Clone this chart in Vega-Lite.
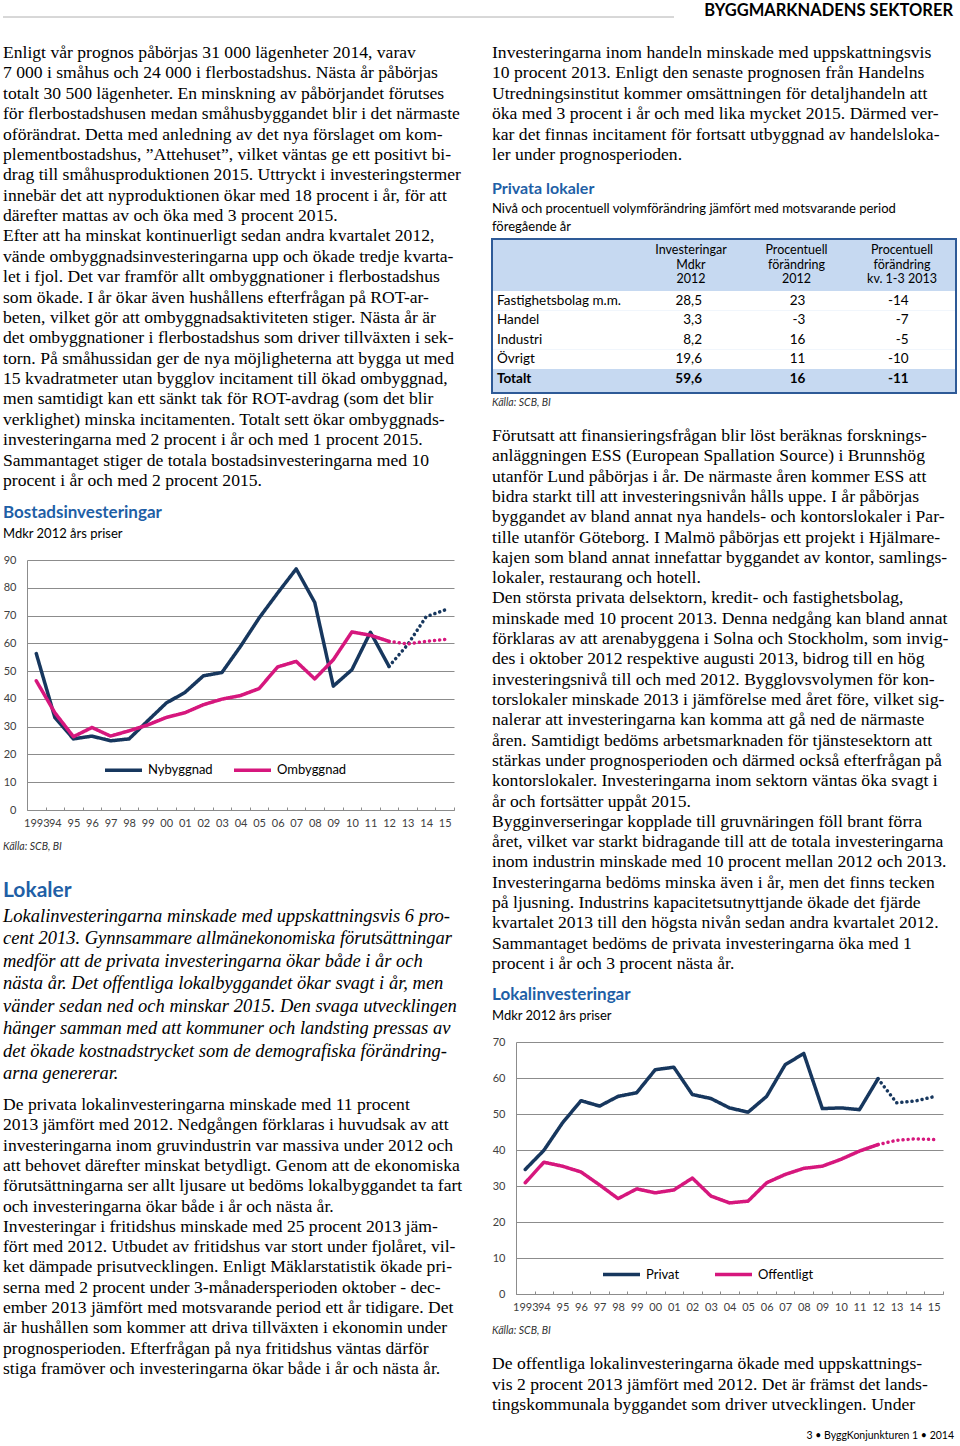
{
  "$schema": "https://vega.github.io/schema/vega-lite/v6.json",
  "background": "white",
  "padding": {"left": 2, "top": 1, "right": 0, "bottom": 0},
  "config": {
    "view": {"stroke": null},
    "locale": {"number": {"decimal": ",", "thousands": " ", "grouping": [3], "currency": ["", " kr"], "minus": "-"}},
    "axis": {"labelFont": "Lato", "labelFontSize": 11, "labelColor": "#404040", "domainColor": "#8c8c8c", "domainWidth": 1, "gridColor": "#8c8c8c", "gridWidth": 1, "tickColor": "#8c8c8c"},
    "title": {"anchor": "start", "frame": "group", "font": "Lato", "fontSize": 17, "fontWeight": "bold", "color": "#1f5fa6", "subtitleFont": "Lato", "subtitleFontSize": 13, "subtitleColor": "#000000", "subtitlePadding": 6, "offset": 12}
  },
  "bounds": "flush",
  "spacing": 24,
  "resolve": {"scale": {"color": "independent", "strokeDash": "independent"}, "legend": {"color": "independent", "strokeDash": "independent"}},
  "vconcat": [
    {
      "width": 950,
      "height": 16,
      "data": {"values": [{"t": "BYGGMARKNADENS SEKTORER"}]},
      "layer": [
        {"mark": {"type": "rule", "color": "#b0b0b0", "strokeWidth": 1}, "encoding": {"x": {"value": 0}, "x2": {"value": 671}, "y": {"value": "height"}}},
        {"mark": {"type": "text", "align": "right", "baseline": "middle", "dy": 2, "font": "Lato", "fontSize": 16.5, "fontWeight": "bold", "color": "#000000"}, "encoding": {"x": {"value": "width"}, "text": {"field": "t"}}}
      ]
    },
    {
      "spacing": 18,
      "resolve": {"scale": {"color": "independent", "strokeDash": "independent"}, "legend": {"color": "independent", "strokeDash": "independent"}},
      "hconcat": [
        {
          "bounds": "flush",
          "spacing": 0,
          "resolve": {"scale": {"color": "independent", "strokeDash": "independent"}, "legend": {"color": "independent", "strokeDash": "independent"}},
          "vconcat": [
            {
              "width": 470,
              "height": 519,
              "data": {"values": [
                {"n": 0, "t": "\u2003Enligt vår prognos påbörjas 31 000 lägenheter 2014, varav"},
                {"n": 1, "t": "7 000 i småhus och 24 000 i flerbostadshus. Nästa år påbörjas"},
                {"n": 2, "t": "totalt 30 500 lägenheter. En minskning av påbörjandet förutses"},
                {"n": 3, "t": "för flerbostadshusen medan småhusbyggandet blir i det närmaste"},
                {"n": 4, "t": "oförändrat. Detta med anledning av det nya förslaget om kom-"},
                {"n": 5, "t": "plementbostadshus, ”Attehuset”, vilket väntas ge ett positivt bi-"},
                {"n": 6, "t": "drag till småhusproduktionen 2015. Uttryckt i investeringstermer"},
                {"n": 7, "t": "innebär det att nyproduktionen ökar med 18 procent i år, för att"},
                {"n": 8, "t": "därefter mattas av och öka med 3 procent 2015."},
                {"n": 9, "t": "\u2003Efter att ha minskat kontinuerligt sedan andra kvartalet 2012,"},
                {"n": 10, "t": "vände ombyggnadsinvesteringarna upp och ökade tredje kvarta-"},
                {"n": 11, "t": "let i fjol. Det var framför allt ombyggnationer i flerbostadshus"},
                {"n": 12, "t": "som ökade. I år ökar även hushållens efterfrågan på ROT-ar-"},
                {"n": 13, "t": "beten, vilket gör att ombyggnadsaktiviteten stiger. Nästa år är"},
                {"n": 14, "t": "det ombyggnationer i flerbostadshus som driver tillväxten i sek-"},
                {"n": 15, "t": "torn. På småhussidan ger de nya möjligheterna att bygga ut med"},
                {"n": 16, "t": "15 kvadratmeter utan bygglov incitament till ökad ombyggnad,"},
                {"n": 17, "t": "men samtidigt kan ett sänkt tak för ROT-avdrag (som det blir"},
                {"n": 18, "t": "verklighet) minska incitamenten. Totalt sett ökar ombyggnads-"},
                {"n": 19, "t": "investeringarna med 2 procent i år och med 1 procent 2015."},
                {"n": 20, "t": "\u2003Sammantaget stiger de totala bostadsinvesteringarna med 10"},
                {"n": 21, "t": "procent i år och med 2 procent 2015."}
              ]},
              "mark": {"type": "text", "align": "left", "baseline": "middle", "font": "Liberation Serif", "fontSize": 17.6, "color": "#000000"},
              "encoding": {
                "x": {"value": 0},
                "y": {"field": "n", "type": "quantitative", "scale": {"domain": [-0.5888, 24.876], "reverse": true, "nice": false, "zero": false}, "axis": null},
                "text": {"field": "t"}
              }
            },
            {
              "width": 470,
              "height": 250,
              "title": {"text": "Bostadsinvesteringar", "subtitle": "Mdkr 2012 års priser"},
              "data": {"values": [
                {"ar": 1993, "serie": "Nybyggnad", "fas": "Utfall", "v": 56.3},
                {"ar": 1994, "serie": "Nybyggnad", "fas": "Utfall", "v": 33.3},
                {"ar": 1995, "serie": "Nybyggnad", "fas": "Utfall", "v": 25.6},
                {"ar": 1996, "serie": "Nybyggnad", "fas": "Utfall", "v": 26.6},
                {"ar": 1997, "serie": "Nybyggnad", "fas": "Utfall", "v": 24.9},
                {"ar": 1998, "serie": "Nybyggnad", "fas": "Utfall", "v": 25.6},
                {"ar": 1999, "serie": "Nybyggnad", "fas": "Utfall", "v": 32.1},
                {"ar": 2000, "serie": "Nybyggnad", "fas": "Utfall", "v": 38.5},
                {"ar": 2001, "serie": "Nybyggnad", "fas": "Utfall", "v": 42.3},
                {"ar": 2002, "serie": "Nybyggnad", "fas": "Utfall", "v": 48.3},
                {"ar": 2003, "serie": "Nybyggnad", "fas": "Utfall", "v": 49.5},
                {"ar": 2004, "serie": "Nybyggnad", "fas": "Utfall", "v": 58.9},
                {"ar": 2005, "serie": "Nybyggnad", "fas": "Utfall", "v": 69.1},
                {"ar": 2006, "serie": "Nybyggnad", "fas": "Utfall", "v": 78.1},
                {"ar": 2007, "serie": "Nybyggnad", "fas": "Utfall", "v": 86.8},
                {"ar": 2008, "serie": "Nybyggnad", "fas": "Utfall", "v": 74.7},
                {"ar": 2009, "serie": "Nybyggnad", "fas": "Utfall", "v": 44.6},
                {"ar": 2010, "serie": "Nybyggnad", "fas": "Utfall", "v": 50.5},
                {"ar": 2011, "serie": "Nybyggnad", "fas": "Utfall", "v": 64.0},
                {"ar": 2012, "serie": "Nybyggnad", "fas": "Utfall", "v": 51.7},
                {"ar": 2012, "serie": "Nybyggnad", "fas": "Prognos", "v": 51.7},
                {"ar": 2013, "serie": "Nybyggnad", "fas": "Prognos", "v": 59.5},
                {"ar": 2014, "serie": "Nybyggnad", "fas": "Prognos", "v": 69.6},
                {"ar": 2015, "serie": "Nybyggnad", "fas": "Prognos", "v": 72.0},
                {"ar": 1993, "serie": "Ombyggnad", "fas": "Utfall", "v": 46.5},
                {"ar": 1994, "serie": "Ombyggnad", "fas": "Utfall", "v": 35.0},
                {"ar": 1995, "serie": "Ombyggnad", "fas": "Utfall", "v": 26.4},
                {"ar": 1996, "serie": "Ombyggnad", "fas": "Utfall", "v": 29.7},
                {"ar": 1997, "serie": "Ombyggnad", "fas": "Utfall", "v": 26.6},
                {"ar": 1998, "serie": "Ombyggnad", "fas": "Utfall", "v": 28.5},
                {"ar": 1999, "serie": "Ombyggnad", "fas": "Utfall", "v": 30.6},
                {"ar": 2000, "serie": "Ombyggnad", "fas": "Utfall", "v": 33.3},
                {"ar": 2001, "serie": "Ombyggnad", "fas": "Utfall", "v": 35.0},
                {"ar": 2002, "serie": "Ombyggnad", "fas": "Utfall", "v": 37.9},
                {"ar": 2003, "serie": "Ombyggnad", "fas": "Utfall", "v": 39.9},
                {"ar": 2004, "serie": "Ombyggnad", "fas": "Utfall", "v": 41.2},
                {"ar": 2005, "serie": "Ombyggnad", "fas": "Utfall", "v": 43.7},
                {"ar": 2006, "serie": "Ombyggnad", "fas": "Utfall", "v": 51.5},
                {"ar": 2007, "serie": "Ombyggnad", "fas": "Utfall", "v": 53.5},
                {"ar": 2008, "serie": "Ombyggnad", "fas": "Utfall", "v": 47.2},
                {"ar": 2009, "serie": "Ombyggnad", "fas": "Utfall", "v": 54.1},
                {"ar": 2010, "serie": "Ombyggnad", "fas": "Utfall", "v": 64.1},
                {"ar": 2011, "serie": "Ombyggnad", "fas": "Utfall", "v": 62.9},
                {"ar": 2012, "serie": "Ombyggnad", "fas": "Utfall", "v": 60.7},
                {"ar": 2012, "serie": "Ombyggnad", "fas": "Prognos", "v": 60.7},
                {"ar": 2013, "serie": "Ombyggnad", "fas": "Prognos", "v": 59.8},
                {"ar": 2014, "serie": "Ombyggnad", "fas": "Prognos", "v": 60.7},
                {"ar": 2015, "serie": "Ombyggnad", "fas": "Prognos", "v": 61.4}
              ]},
              "mark": {"type": "line", "strokeWidth": 3.5, "strokeCap": "round", "strokeJoin": "round"},
              "encoding": {
                "x": {"field": "ar", "type": "ordinal", "scale": {"type": "band", "range": [24, 451], "paddingInner": 0, "paddingOuter": 0}, "axis": {"title": null, "labelAngle": 0, "labelExpr": "datum.value == 1993 ? '1993' : substring(datum.label, 2, 4)", "tickBand": "extent", "tickSize": -3, "labelPadding": 10, "labelOverlap": false, "grid": false}},
                "y": {"field": "v", "type": "quantitative", "scale": {"domain": [0, 90], "nice": false}, "axis": {"title": null, "values": [0, 10, 20, 30, 40, 50, 60, 70, 80, 90], "offset": -24, "ticks": false, "labelPadding": 11, "grid": true}},
                "color": {"field": "serie", "type": "nominal", "scale": {"domain": ["Nybyggnad", "Ombyggnad"], "range": ["#17375e", "#d6177d"]}, "legend": {"orient": "none", "legendX": 100, "legendY": 189.5, "direction": "horizontal", "title": null, "symbolType": "stroke", "symbolSize": 1369, "symbolStrokeWidth": 3.5, "labelFont": "Lato", "labelFontSize": 13, "labelColor": "#000000", "labelOffset": 4, "columnPadding": 14, "padding": 0}},
                "strokeDash": {"field": "fas", "type": "nominal", "scale": {"domain": ["Utfall", "Prognos"], "range": [[1, 0], [0.1, 5]]}, "legend": null}
              }
            },
            {
              "width": 470,
              "height": 74,
              "data": {"values": [{"t": "Källa: SCB, BI"}]},
              "mark": {"type": "text", "align": "left", "baseline": "middle", "font": "Lato", "fontSize": 10.5, "fontStyle": "italic", "color": "#333333"},
              "encoding": {"x": {"value": 0}, "text": {"field": "t"}}
            },
            {
              "width": 470,
              "height": 14,
              "data": {"values": [{"t": "Lokaler"}]},
              "mark": {"type": "text", "align": "left", "baseline": "middle", "font": "Lato", "fontSize": 21, "fontWeight": "bold", "color": "#1f5fa6"},
              "encoding": {"x": {"value": 0}, "text": {"field": "t"}}
            },
            {
              "width": 470,
              "height": 188,
              "data": {"values": [
                {"n": 0, "t": "Lokalinvesteringarna minskade med uppskattningsvis 6 pro-"},
                {"n": 1, "t": "cent 2013. Gynnsammare allmänekonomiska förutsättningar"},
                {"n": 2, "t": "medför att de privata investeringarna ökar både i år och"},
                {"n": 3, "t": "nästa år. Det offentliga lokalbyggandet ökar svagt i år, men"},
                {"n": 4, "t": "vänder sedan ned och minskar 2015. Den svaga utvecklingen"},
                {"n": 5, "t": "hänger samman med att kommuner och landsting pressas av"},
                {"n": 6, "t": "det ökade kostnadstrycket som de demografiska förändring-"},
                {"n": 7, "t": "arna genererar."}
              ]},
              "mark": {"type": "text", "align": "left", "baseline": "middle", "font": "Liberation Serif", "fontSize": 18.5, "fontStyle": "italic", "color": "#000000"},
              "encoding": {
                "x": {"value": 0},
                "y": {"field": "n", "type": "quantitative", "scale": {"domain": [-0.8025, 7.579], "reverse": true, "nice": false, "zero": false}, "axis": null},
                "text": {"field": "t"}
              }
            },
            {
              "width": 470,
              "height": 305,
              "data": {"values": [
                {"n": 0, "t": "\u2003De privata lokalinvesteringarna minskade med 11 procent"},
                {"n": 1, "t": "2013 jämfört med 2012. Nedgången förklaras i huvudsak av att"},
                {"n": 2, "t": "investeringarna inom gruvindustrin var massiva under 2012 och"},
                {"n": 3, "t": "att behovet därefter minskat betydligt. Genom att de ekonomiska"},
                {"n": 4, "t": "förutsättningarna ser allt ljusare ut bedöms lokalbyggandet ta fart"},
                {"n": 5, "t": "och investeringarna ökar både i år och nästa år."},
                {"n": 6, "t": "\u2003Investeringar i fritidshus minskade med 25 procent 2013 jäm-"},
                {"n": 7, "t": "fört med 2012. Utbudet av fritidshus var stort under fjolåret, vil-"},
                {"n": 8, "t": "ket dämpade prisutvecklingen. Enligt Mäklarstatistik ökade pri-"},
                {"n": 9, "t": "serna med 2 procent under 3-månadersperioden oktober - dec-"},
                {"n": 10, "t": "ember 2013 jämfört med motsvarande period ett år tidigare. Det"},
                {"n": 11, "t": "är hushållen som kommer att driva tillväxten i ekonomin under"},
                {"n": 12, "t": "prognosperioden. Efterfrågan på nya fritidshus väntas därför"},
                {"n": 13, "t": "stiga framöver och investeringarna ökar både i år och nästa år."}
              ]},
              "mark": {"type": "text", "align": "left", "baseline": "middle", "font": "Liberation Serif", "fontSize": 17.6, "color": "#000000"},
              "encoding": {
                "x": {"value": 0},
                "y": {"field": "n", "type": "quantitative", "scale": {"domain": [-0.9355, 14.082], "reverse": true, "nice": false, "zero": false}, "axis": null},
                "text": {"field": "t"}
              }
            }
          ]
        },
        {
          "bounds": "flush",
          "spacing": 0,
          "resolve": {"scale": {"color": "independent", "strokeDash": "independent"}, "legend": {"color": "independent", "strokeDash": "independent"}},
          "vconcat": [
            {
              "width": 465,
              "height": 198,
              "data": {"values": [
                {"n": 0, "t": "\u2003Investeringarna inom handeln minskade med uppskattningsvis"},
                {"n": 1, "t": "10 procent 2013. Enligt den senaste prognosen från Handelns"},
                {"n": 2, "t": "Utredningsinstitut kommer omsättningen för detaljhandeln att"},
                {"n": 3, "t": "öka med 3 procent i år och med lika mycket 2015. Därmed ver-"},
                {"n": 4, "t": "kar det finnas incitament för fortsatt utbyggnad av handelsloka-"},
                {"n": 5, "t": "ler under prognosperioden."}
              ]},
              "mark": {"type": "text", "align": "left", "baseline": "middle", "font": "Liberation Serif", "fontSize": 17.6, "color": "#000000"},
              "encoding": {
                "x": {"value": 0},
                "y": {"field": "n", "type": "quantitative", "scale": {"domain": [-0.5882, 9.1176], "reverse": true, "nice": false, "zero": false}, "axis": null},
                "text": {"field": "t"}
              }
            },
            {
              "width": 464,
              "height": 154,
              "view": {"fill": "#c6d9f1"},
              "title": {"text": "Privata lokaler", "subtitle": ["Nivå och procentuell volymförändring jämfört med motsvarande period", "föregående år"], "fontSize": 16, "subtitleLineHeight": 18, "offset": 4},
              "data": {"values": [
                {"rad": "Fastighetsbolag m.m.", "inv": 28.5, "f12": 23, "f13": -14},
                {"rad": "Handel", "inv": 3.3, "f12": -3, "f13": -7},
                {"rad": "Industri", "inv": 8.2, "f12": 16, "f13": -5},
                {"rad": "Övrigt", "inv": 19.6, "f12": 11, "f13": -10},
                {"rad": "Totalt", "inv": 59.6, "f12": 16, "f13": -11}
              ]},
              "layer": [
                {
                  "transform": [{"filter": "datum.rad !== 'Totalt'"}],
                  "mark": {"type": "rect", "color": "#ffffff"},
                  "encoding": {"y": {"field": "rad", "type": "nominal", "scale": {"type": "band", "domain": ["Fastighetsbolag m.m.", "Handel", "Industri", "Övrigt", "Totalt"], "range": [52, 149.5], "paddingInner": 0, "paddingOuter": 0}, "axis": null}}
                },
                {
                  "transform": [{"filter": "datum.rad !== 'Totalt'"}],
                  "mark": {"type": "text", "align": "left", "baseline": "middle", "font": "Lato", "fontSize": 13.5, "color": "#000000"},
                  "encoding": {
                    "x": {"value": 5},
                    "y": {"field": "rad", "type": "nominal", "scale": {"type": "band", "domain": ["Fastighetsbolag m.m.", "Handel", "Industri", "Övrigt", "Totalt"], "range": [52, 149.5], "paddingInner": 0, "paddingOuter": 0}, "axis": null},
                    "text": {"field": "rad"}
                  }
                },
                {
                  "transform": [{"filter": "datum.rad === 'Totalt'"}],
                  "mark": {"type": "text", "align": "left", "baseline": "middle", "font": "Lato", "fontSize": 13.5, "fontWeight": "bold", "color": "#000000"},
                  "encoding": {
                    "x": {"value": 5},
                    "y": {"field": "rad", "type": "nominal", "scale": {"type": "band", "domain": ["Fastighetsbolag m.m.", "Handel", "Industri", "Övrigt", "Totalt"], "range": [52, 149.5], "paddingInner": 0, "paddingOuter": 0}, "axis": null},
                    "text": {"field": "rad"}
                  }
                },
                {
                  "transform": [{"fold": ["inv", "f12", "f13"], "as": ["kol", "v"]}, {"filter": "datum.rad !== 'Totalt'"}],
                  "mark": {"type": "text", "align": "right", "baseline": "middle", "font": "Lato", "fontSize": 13.5, "color": "#000000"},
                  "encoding": {
                    "x": {"field": "kol", "type": "nominal", "scale": {"type": "point", "domain": ["inv", "f12", "f13"], "range": [210, 416.7], "padding": 0}, "axis": null},
                    "y": {"field": "rad", "type": "nominal", "scale": {"type": "band", "domain": ["Fastighetsbolag m.m.", "Handel", "Industri", "Övrigt", "Totalt"], "range": [52, 149.5], "paddingInner": 0, "paddingOuter": 0}, "axis": null},
                    "text": {"field": "v", "type": "quantitative", "format": "~g"}
                  }
                },
                {
                  "transform": [{"fold": ["inv", "f12", "f13"], "as": ["kol", "v"]}, {"filter": "datum.rad === 'Totalt'"}],
                  "mark": {"type": "text", "align": "right", "baseline": "middle", "font": "Lato", "fontSize": 13.5, "fontWeight": "bold", "color": "#000000"},
                  "encoding": {
                    "x": {"field": "kol", "type": "nominal", "scale": {"type": "point", "domain": ["inv", "f12", "f13"], "range": [210, 416.7], "padding": 0}, "axis": null},
                    "y": {"field": "rad", "type": "nominal", "scale": {"type": "band", "domain": ["Fastighetsbolag m.m.", "Handel", "Industri", "Övrigt", "Totalt"], "range": [52, 149.5], "paddingInner": 0, "paddingOuter": 0}, "axis": null},
                    "text": {"field": "v", "type": "quantitative", "format": "~g"}
                  }
                },
                {
                  "data": {"values": [
                    {"kol": "inv", "n": 0, "t": "Investeringar"},
                    {"kol": "inv", "n": 1, "t": "Mdkr"},
                    {"kol": "inv", "n": 2, "t": "2012"},
                    {"kol": "f12", "n": 0, "t": "Procentuell"},
                    {"kol": "f12", "n": 1, "t": "förändring"},
                    {"kol": "f12", "n": 2, "t": "2012"},
                    {"kol": "f13", "n": 0, "t": "Procentuell"},
                    {"kol": "f13", "n": 1, "t": "förändring"},
                    {"kol": "f13", "n": 2, "t": "kv. 1-3 2013"}
                  ]},
                  "mark": {"type": "text", "align": "center", "baseline": "middle", "font": "Lato", "fontSize": 12.5, "color": "#000000"},
                  "encoding": {
                    "x": {"field": "kol", "type": "nominal", "scale": {"type": "point", "domain": ["inv", "f12", "f13"], "range": [199, 410], "padding": 0}, "axis": null},
                    "y": {"field": "n", "type": "quantitative", "scale": {"domain": [0, 2], "range": [11, 40.3], "nice": false, "zero": false}, "axis": null},
                    "text": {"field": "t"}
                  }
                },
                {
                  "data": {"values": [{"b": 1}]},
                  "mark": {"type": "rect", "fill": "transparent", "stroke": "#2e5a97", "strokeWidth": 2},
                  "encoding": {}
                }
              ],
              "resolve": {"scale": {"x": "independent", "y": "independent"}}
            },
            {
              "width": 465,
              "height": 20,
              "data": {"values": [{"t": "Källa: SCB, BI"}]},
              "mark": {"type": "text", "align": "left", "baseline": "middle", "font": "Lato", "fontSize": 10.5, "fontStyle": "italic", "color": "#333333"},
              "encoding": {"x": {"value": 0}, "text": {"field": "t"}}
            },
            {
              "width": 465,
              "height": 629,
              "data": {"values": [
                {"n": 0, "t": "\u2003Förutsatt att finansieringsfrågan blir löst beräknas forsknings-"},
                {"n": 1, "t": "anläggningen ESS (European Spallation Source) i Brunnshög"},
                {"n": 2, "t": "utanför Lund påbörjas i år. De närmaste åren kommer ESS att"},
                {"n": 3, "t": "bidra starkt till att investeringsnivån hålls uppe. I år påbörjas"},
                {"n": 4, "t": "byggandet av bland annat nya handels- och kontorslokaler i Par-"},
                {"n": 5, "t": "tille utanför Göteborg. I Malmö påbörjas ett projekt i Hjälmare-"},
                {"n": 6, "t": "kajen som bland annat innefattar byggandet av kontor, samlings-"},
                {"n": 7, "t": "lokaler, restaurang och hotell."},
                {"n": 8, "t": "\u2003Den största privata delsektorn, kredit- och fastighetsbolag,"},
                {"n": 9, "t": "minskade med 10 procent 2013. Denna nedgång kan bland annat"},
                {"n": 10, "t": "förklaras av att arenabyggena i Solna och Stockholm, som invig-"},
                {"n": 11, "t": "des i oktober 2012 respektive augusti 2013, bidrog till en hög"},
                {"n": 12, "t": "investeringsnivå till och med 2012. Bygglovsvolymen för kon-"},
                {"n": 13, "t": "torslokaler minskade 2013 i jämförelse med året före, vilket sig-"},
                {"n": 14, "t": "nalerar att investeringarna kan komma att gå ned de närmaste"},
                {"n": 15, "t": "åren. Samtidigt bedöms arbetsmarknaden för tjänstesektorn att"},
                {"n": 16, "t": "stärkas under prognosperioden och därmed också efterfrågan på"},
                {"n": 17, "t": "kontorslokaler. Investeringarna inom sektorn väntas öka svagt i"},
                {"n": 18, "t": "år och fortsätter uppåt 2015."},
                {"n": 19, "t": "\u2003Bygginverseringar kopplade till gruvnäringen föll brant förra"},
                {"n": 20, "t": "året, vilket var starkt bidragande till att de totala investeringarna"},
                {"n": 21, "t": "inom industrin minskade med 10 procent mellan 2012 och 2013."},
                {"n": 22, "t": "Investeringarna bedöms minska även i år, men det finns tecken"},
                {"n": 23, "t": "på ljusning. Industrins kapacitetsutnyttjande ökade det fjärde"},
                {"n": 24, "t": "kvartalet 2013 till den högsta nivån sedan andra kvartalet 2012."},
                {"n": 25, "t": "\u2003Sammantaget bedöms de privata investeringarna öka med 1"},
                {"n": 26, "t": "procent i år och 3 procent nästa år."}
              ]},
              "mark": {"type": "text", "align": "left", "baseline": "middle", "font": "Liberation Serif", "fontSize": 17.6, "color": "#000000"},
              "encoding": {
                "x": {"value": 0},
                "y": {"field": "n", "type": "quantitative", "scale": {"domain": [-1.1326, 29.841], "reverse": true, "nice": false, "zero": false}, "axis": null},
                "text": {"field": "t"}
              }
            },
            {
              "width": 465,
              "height": 252,
              "title": {"text": "Lokalinvesteringar", "subtitle": "Mdkr 2012 års priser"},
              "data": {"values": [
                {"ar": 1993, "serie": "Privat", "fas": "Utfall", "v": 34.6},
                {"ar": 1994, "serie": "Privat", "fas": "Utfall", "v": 39.9},
                {"ar": 1995, "serie": "Privat", "fas": "Utfall", "v": 47.5},
                {"ar": 1996, "serie": "Privat", "fas": "Utfall", "v": 53.7},
                {"ar": 1997, "serie": "Privat", "fas": "Utfall", "v": 52.2},
                {"ar": 1998, "serie": "Privat", "fas": "Utfall", "v": 54.9},
                {"ar": 1999, "serie": "Privat", "fas": "Utfall", "v": 55.9},
                {"ar": 2000, "serie": "Privat", "fas": "Utfall", "v": 62.3},
                {"ar": 2001, "serie": "Privat", "fas": "Utfall", "v": 63.0},
                {"ar": 2002, "serie": "Privat", "fas": "Utfall", "v": 55.4},
                {"ar": 2003, "serie": "Privat", "fas": "Utfall", "v": 54.3},
                {"ar": 2004, "serie": "Privat", "fas": "Utfall", "v": 51.7},
                {"ar": 2005, "serie": "Privat", "fas": "Utfall", "v": 50.5},
                {"ar": 2006, "serie": "Privat", "fas": "Utfall", "v": 54.9},
                {"ar": 2007, "serie": "Privat", "fas": "Utfall", "v": 63.7},
                {"ar": 2008, "serie": "Privat", "fas": "Utfall", "v": 66.8},
                {"ar": 2009, "serie": "Privat", "fas": "Utfall", "v": 51.5},
                {"ar": 2010, "serie": "Privat", "fas": "Utfall", "v": 51.7},
                {"ar": 2011, "serie": "Privat", "fas": "Utfall", "v": 51.2},
                {"ar": 2012, "serie": "Privat", "fas": "Utfall", "v": 59.8},
                {"ar": 2012, "serie": "Privat", "fas": "Prognos", "v": 59.8},
                {"ar": 2013, "serie": "Privat", "fas": "Prognos", "v": 53.1},
                {"ar": 2014, "serie": "Privat", "fas": "Prognos", "v": 53.6},
                {"ar": 2015, "serie": "Privat", "fas": "Prognos", "v": 54.8},
                {"ar": 1993, "serie": "Offentligt", "fas": "Utfall", "v": 30.9},
                {"ar": 1994, "serie": "Offentligt", "fas": "Utfall", "v": 36.6},
                {"ar": 1995, "serie": "Offentligt", "fas": "Utfall", "v": 35.5},
                {"ar": 1996, "serie": "Offentligt", "fas": "Utfall", "v": 33.9},
                {"ar": 1997, "serie": "Offentligt", "fas": "Utfall", "v": 30.3},
                {"ar": 1998, "serie": "Offentligt", "fas": "Utfall", "v": 26.5},
                {"ar": 1999, "serie": "Offentligt", "fas": "Utfall", "v": 29.2},
                {"ar": 2000, "serie": "Offentligt", "fas": "Utfall", "v": 28.1},
                {"ar": 2001, "serie": "Offentligt", "fas": "Utfall", "v": 28.9},
                {"ar": 2002, "serie": "Offentligt", "fas": "Utfall", "v": 32.2},
                {"ar": 2003, "serie": "Offentligt", "fas": "Utfall", "v": 27.2},
                {"ar": 2004, "serie": "Offentligt", "fas": "Utfall", "v": 25.3},
                {"ar": 2005, "serie": "Offentligt", "fas": "Utfall", "v": 25.8},
                {"ar": 2006, "serie": "Offentligt", "fas": "Utfall", "v": 30.9},
                {"ar": 2007, "serie": "Offentligt", "fas": "Utfall", "v": 33.2},
                {"ar": 2008, "serie": "Offentligt", "fas": "Utfall", "v": 34.9},
                {"ar": 2009, "serie": "Offentligt", "fas": "Utfall", "v": 35.5},
                {"ar": 2010, "serie": "Offentligt", "fas": "Utfall", "v": 37.4},
                {"ar": 2011, "serie": "Offentligt", "fas": "Utfall", "v": 39.7},
                {"ar": 2012, "serie": "Offentligt", "fas": "Utfall", "v": 41.5},
                {"ar": 2012, "serie": "Offentligt", "fas": "Prognos", "v": 41.5},
                {"ar": 2013, "serie": "Offentligt", "fas": "Prognos", "v": 42.7},
                {"ar": 2014, "serie": "Offentligt", "fas": "Prognos", "v": 43.1},
                {"ar": 2015, "serie": "Offentligt", "fas": "Prognos", "v": 42.9}
              ]},
              "mark": {"type": "line", "strokeWidth": 3.5, "strokeCap": "round", "strokeJoin": "round"},
              "encoding": {
                "x": {"field": "ar", "type": "ordinal", "scale": {"type": "band", "range": [24, 451], "paddingInner": 0, "paddingOuter": 0}, "axis": {"title": null, "labelAngle": 0, "labelExpr": "datum.value == 1993 ? '1993' : substring(datum.label, 2, 4)", "tickBand": "extent", "tickSize": -3, "labelPadding": 10, "labelOverlap": false, "grid": false}},
                "y": {"field": "v", "type": "quantitative", "scale": {"domain": [0, 70], "nice": false}, "axis": {"title": null, "values": [0, 10, 20, 30, 40, 50, 60, 70], "offset": -24, "ticks": false, "labelPadding": 11, "grid": true}},
                "color": {"field": "serie", "type": "nominal", "scale": {"domain": ["Privat", "Offentligt"], "range": ["#17375e", "#d6177d"]}, "legend": {"orient": "none", "legendX": 109, "legendY": 211.8, "direction": "horizontal", "title": null, "symbolType": "stroke", "symbolSize": 1369, "symbolStrokeWidth": 3.5, "labelFont": "Lato", "labelFontSize": 13, "labelColor": "#000000", "labelOffset": 4, "columnPadding": 28, "padding": 0}},
                "strokeDash": {"field": "fas", "type": "nominal", "scale": {"domain": ["Utfall", "Prognos"], "range": [[1, 0], [0.1, 5]]}, "legend": null}
              }
            },
            {
              "width": 465,
              "height": 74,
              "data": {"values": [{"t": "Källa: SCB, BI"}]},
              "mark": {"type": "text", "align": "left", "baseline": "middle", "font": "Lato", "fontSize": 10.5, "fontStyle": "italic", "color": "#333333"},
              "encoding": {"x": {"value": 0}, "text": {"field": "t"}}
            },
            {
              "width": 465,
              "height": 58,
              "data": {"values": [
                {"n": 0, "t": "\u2003De offentliga lokalinvesteringarna ökade med uppskattnings-"},
                {"n": 1, "t": "vis 2 procent 2013 jämfört med 2012. Det är främst det lands-"},
                {"n": 2, "t": "tingskommunala byggandet som driver utvecklingen. Under"}
              ]},
              "mark": {"type": "text", "align": "left", "baseline": "middle", "font": "Liberation Serif", "fontSize": 17.6, "color": "#000000"},
              "encoding": {
                "x": {"value": 0},
                "y": {"field": "n", "type": "quantitative", "scale": {"domain": [0.1951, 3.0244], "reverse": true, "nice": false, "zero": false}, "axis": null},
                "text": {"field": "t"}
              }
            },
            {
              "width": 462,
              "height": 20,
              "data": {"values": [{"t": "3 • ByggKonjunkturen 1 • 2014"}]},
              "mark": {"type": "text", "align": "right", "baseline": "middle", "font": "Lato", "fontSize": 10.5, "color": "#000000"},
              "encoding": {"x": {"value": "width"}, "text": {"field": "t"}}
            }
          ]
        }
      ]
    }
  ]
}
